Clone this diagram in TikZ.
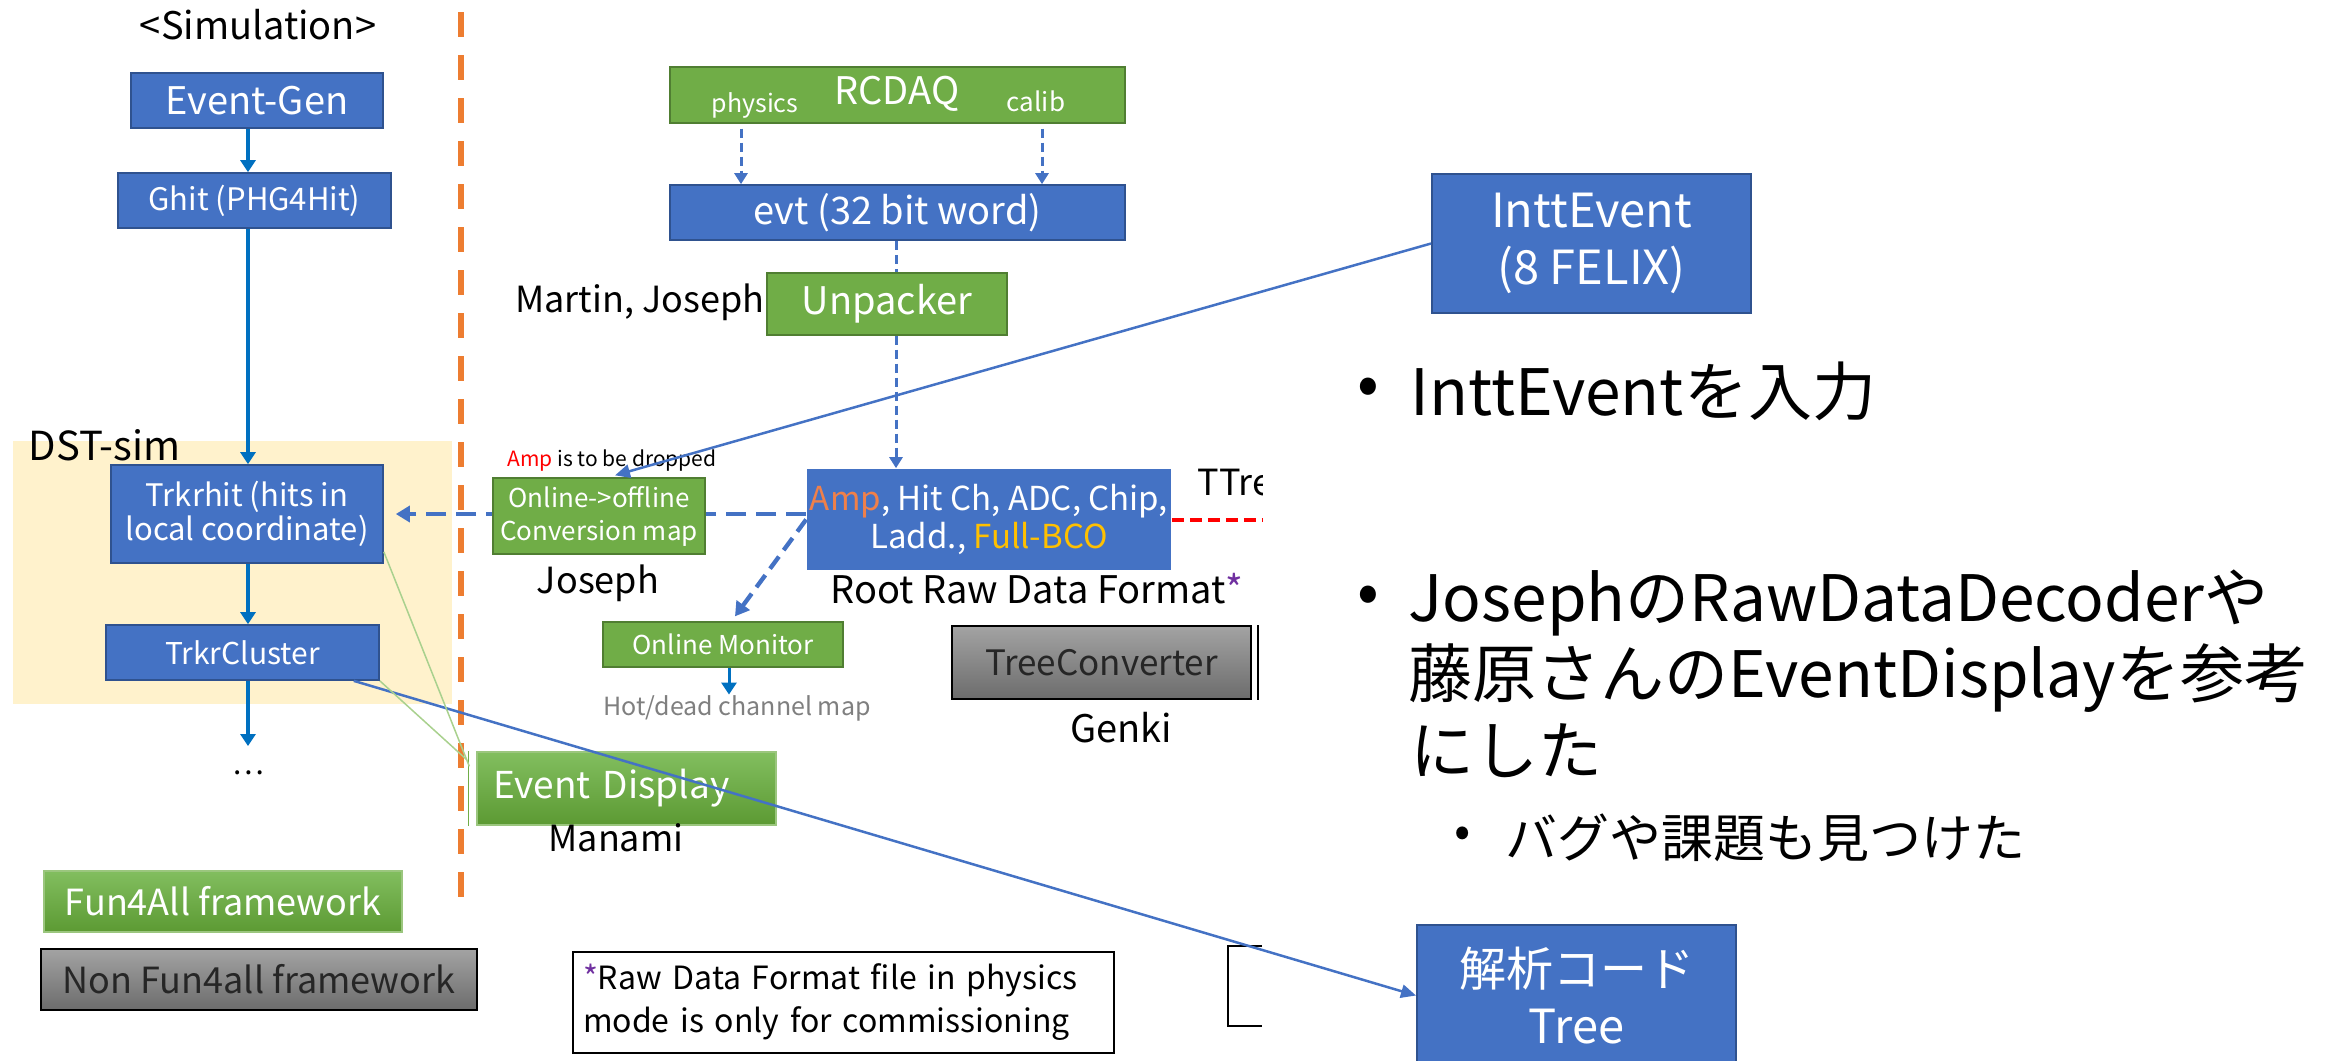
\documentclass[tikz,border=0pt]{standalone}
\usepackage{fontspec}
\setmainfont{Noto Sans CJK JP}
\usetikzlibrary{arrows.meta,calc}
\pgfdeclarelayer{back}
\pgfsetlayers{back,main}

\definecolor{boxblue}{HTML}{4472C4}
\definecolor{boxblueline}{HTML}{2F528F}
\definecolor{boxgreen}{HTML}{70AD47}
\definecolor{boxgreenline}{HTML}{507E32}
\definecolor{gradgreentop}{HTML}{82BE5F}
\definecolor{gradgreenbot}{HTML}{5C9A33}
\definecolor{gradgraytop}{HTML}{A3A3A3}
\definecolor{gradgraybot}{HTML}{6C6C6C}
\definecolor{arrowblue}{HTML}{0070C0}
\definecolor{divorange}{HTML}{ED7D31}
\definecolor{dstfill}{HTML}{FFF2CC}
\definecolor{ampred}{HTML}{F0804A}
\definecolor{bcogold}{HTML}{FFC000}
\definecolor{notepurple}{HTML}{7030A0}
\definecolor{hotgray}{HTML}{7F7F7F}
\definecolor{thingreen}{HTML}{A9D18E}

% font size given in pixels of the drawing (1px = 0.3pt)
\newcommand\fs[1]{\fontsize{\dimexpr #1pt*3/10\relax}{\dimexpr #1pt*36/100\relax}\selectfont}
\newcommand\fsl[2]{\fontsize{\dimexpr #1pt*3/10\relax}{\dimexpr #2pt*3/10\relax}\selectfont}

\tikzset{
  wh/.style 2 args={minimum width=#1*0.3pt, minimum height=#2*0.3pt},
  bluebox/.style={draw=boxblueline, line width=0.5pt, fill=boxblue, text=white, inner sep=0pt, align=center},
  greenbox/.style={draw=boxgreenline, line width=0.4pt, fill=boxgreen, text=white, inner sep=0pt, align=center},
  greengrad/.style={draw=boxgreen!70!white, line width=0.4pt, top color=gradgreentop, bottom color=gradgreenbot, text=white, inner sep=0pt},
  graybox/.style={draw=black, line width=0.6pt, top color=gradgraytop, bottom color=gradgraybot, text=black!85, inner sep=0pt},
  lbl/.style={inner sep=0pt, text=black},
  solidarrow/.style={draw=arrowblue, line width=1.2pt, -{Triangle[length=3.6pt,width=4.5pt]}},
  dashline/.style={draw=boxblue, line width=0.9pt, dash pattern=on 2.7pt off 1.5pt},
  dasharrow/.style={dashline, -{Triangle[length=3.3pt,width=3.9pt]}},
  thickdash/.style={draw=boxblue, line width=1.3pt, dash pattern=on 6pt off 3pt, -{Triangle[length=4.2pt,width=4.8pt]}},
  thinlink/.style={draw=boxblue, line width=0.75pt, -{Triangle[length=4.5pt,width=4pt]}},
  faintlink/.style={draw=thingreen, line width=0.45pt},
}

\begin{document}
\begin{tikzpicture}[x=0.3pt,y=-0.3pt]
\useasboundingbox (0,0) rectangle (2328,1060);
\clip (0,0) rectangle (2328,1060);

% divider between simulation and data chain
\draw[divorange, line width=1.8pt, dash pattern=on 7.5pt off 5.4pt] (461,12) -- (461,905);

% ---------- simulation column ----------
\begin{pgfonlayer}{back}
\node[fill=dstfill, wh={439}{263}, inner sep=0pt] (dstsim) at (232.5,572.5) {};
\end{pgfonlayer}
\node[lbl, font=\fs{40}, anchor=west] (dstlabel) at (28,445) {DST-sim};
\node[lbl, font=\fs{38}] (simtitle) at (258,25) {<Simulation>};

\node[bluebox, wh={252}{55}, font=\fs{38}] (eventgen) at (257,100.5) {Event-Gen};
\node[bluebox, wh={273}{55}, font=\fs{31}] (ghit) at (254.5,200.5) {Ghit (PHG4Hit)};
\node[bluebox, wh={272}{98}, font=\fsl{31}{34}] (trkrhit) at (247,514) {Trkrhit (hits in\\local coordinate)};
\node[bluebox, wh={273}{55}, font=\fs{30}] (trkrcl) at (242.5,652.5) {TrkrCluster};
\node[lbl, font=\fs{30}] (dots) at (248,773) {…};

\coordinate (simx) at (248,0);
\coordinate (simend) at (248,746);
\draw[solidarrow] (eventgen.south -| simx) -- (ghit.north -| simx);
\draw[solidarrow] (ghit.south -| simx) -- (trkrhit.north -| simx);
\draw[solidarrow] (trkrhit.south -| simx) -- (trkrcl.north -| simx);
\draw[solidarrow] (trkrcl.south -| simx) -- (simend);

% legend
\node[greengrad, wh={358}{61}, font=\fs{36}] (fun4all) at (223,901.5) {Fun4All framework};
\node[graybox, wh={436}{61}, font=\fs{36}] (nonfun) at (259,979.5) {Non Fun4all framework};

% ---------- data chain ----------
\node[greenbox, wh={455}{56}] (rcdaq) at (897.5,95) {};
\node[lbl, text=white, font=\fs{38}] (rcdaqlbl) at (897,94) {RCDAQ};
\node[lbl, text=white, font=\fs{25}] (physlbl) at (755,105) {physics};
\node[lbl, text=white, font=\fs{26}] (caliblbl) at (1036,101) {calib};

\node[bluebox, wh={455}{55}, font=\fs{38}] (evt) at (897.5,212.5) {evt (32 bit word)};
\coordinate (physx) at (741,0);
\coordinate (calibx) at (1042,0);
\coordinate (midx) at (896,0);
\draw[dasharrow, shorten <=1.5pt] (rcdaq.south -| physx) -- (evt.north -| physx);
\draw[dasharrow, shorten <=1.5pt] (rcdaq.south -| calibx) -- (evt.north -| calibx);

\node[greenbox, wh={240}{62}, font=\fs{38}] (unpacker) at (887,304) {Unpacker};
\node[lbl, font=\fs{36}, anchor=east] (martin) at (765,302) {Martin, Joseph};
\draw[dashline] (evt.south -| midx) -- (unpacker.north -| midx);

\node[bluebox, draw=none, wh={364}{101}, font=\fsl{33}{38}] (amp) at (989,519.5)
  {\textcolor{ampred}{Amp}, Hit Ch, ADC, Chip,\\Ladd., \textcolor{bcogold}{Full-BCO}};
\draw[dasharrow] (unpacker.south -| midx) -- (amp.north -| midx);

\node[greenbox, wh={212}{76}, font=\fsl{26}{33}] (onoff) at (599,516) {Online->offline\\Conversion map};
\node[lbl, font=\fs{21}, anchor=west] (dropnote) at (507,461) {\textcolor{red}{Amp} is to be dropped};
\node[lbl, font=\fs{36}] (josephlbl) at (598,583) {Joseph};

\begin{pgfonlayer}{back}
\draw[thickdash] (amp.west |- trkrhit.east) -- ([xshift=3.6pt]trkrhit.east);
\end{pgfonlayer}

\node[greenbox, wh={240}{45}, font=\fs{26}] (onmon) at (723,644.5) {Online Monitor};
\draw[thickdash, dash pattern=on 4.5pt off 2.4pt] (amp.west) -- ($(onmon.north)+(12,-5)$);
\node[lbl, text=hotgray, font=\fs{25}] (hotdead) at (737,708) {Hot/dead channel map};
\coordinate (hotx) at (729,0);
\draw[solidarrow, line width=0.9pt] (onmon.south -| hotx) -- (hotdead.north -| hotx);

\node[lbl, font=\fs{38}] (rootraw) at (1037,589) {Root Raw Data Format\textcolor{notepurple}{*}};
\begin{scope}
\clip (1180,440) rectangle (1262,530);
\node[lbl, font=\fs{36}, anchor=west] (ttree) at (1197,483) {TTree};
\end{scope}
\coordinate (ttreeend) at (1262,521);
\draw[red, line width=1.2pt, dash pattern=on 3.6pt off 1.8pt] (amp.east) -- (amp.east -| ttreeend);

\node[graybox, wh={299}{73}, font=\fs{35}] (treeconv) at (1101.5,662.5) {TreeConverter};
\draw[black, line width=0.6pt] ([xshift=1.8pt]treeconv.north east) -- ([xshift=1.8pt]treeconv.south east);
\node[lbl, font=\fs{38}] (genki) at (1121,728) {Genki};

\node[greengrad, wh={299}{73}, font=\fs{37}, text width=80.1pt, align=left, inner xsep=4.8pt] (eventdisp) at (626.5,788.5) {Event Display};
\draw[boxgreen, line width=0.5pt] ([xshift=-2.4pt]eventdisp.north west) -- ([xshift=-2.4pt]eventdisp.south west);
\node[lbl, font=\fs{36}] (manami) at (616,838) {Manami};

\node[draw=black, line width=0.6pt, fill=white, wh={541}{101}, text width=156.3pt, align=left,
      inner xsep=3pt, inner ysep=0pt, font=\fsl{32}{43}] (note) at (843.5,1002.5)
  {\textcolor{notepurple}{*}Raw Data Format file in physics\\mode is only for commissioning};

\draw[black, line width=0.6pt] (1262,946) -- (1228,946) -- (1228,1026) -- (1262,1026);

% ---------- analysis side ----------
\node[bluebox, line width=0.6pt, wh={319}{139}, font=\fsl{47}{57}] (inttevent) at (1591.5,243.5) {InttEvent\\(8 FELIX)};
\node[bluebox, line width=0.6pt, wh={319}{141}, font=\fsl{47}{57}] (kaiseki) at (1576.5,995.5) {解析コード\\Tree};

\node[lbl, font=\fs{64}] (b1dot) at (1368,392) {•};
\node[lbl, font=\fs{64}, anchor=base west] (b1) at (1410,415) {InttEventを入力};
\node[lbl, font=\fs{64}] (b2dot) at (1368,600) {•};
\node[lbl, font=\fs{64}, anchor=base west] (b2a) at (1408,621) {JosephのRawDataDecoderや};
\node[lbl, font=\fs{64}, anchor=base west] (b2b) at (1408,697) {藤原さんのEventDisplayを参考};
\node[lbl, font=\fs{64}, anchor=base west] (b2c) at (1410,774) {にした};
\node[lbl, font=\fs{48}] (b3dot) at (1463,837) {•};
\node[lbl, font=\fs{52}, anchor=base west] (b3) at (1505,857) {バグや課題も見つけた};

% links drawn over the boxes
\draw[thinlink] (inttevent.west) -- ($(onoff.north)+(16,-2)$);
\draw[thinlink] ($(trkrcl.south east)+(-26,0)$) -- (kaiseki.west);
\draw[faintlink] ($(trkrhit.south east)+(0,-12)$) -- ($(eventdisp.north west)+(-7,15)$);
\draw[faintlink] (trkrcl.south east) -- ($(eventdisp.north west)+(-10,8)$);
\end{tikzpicture}
\end{document}
